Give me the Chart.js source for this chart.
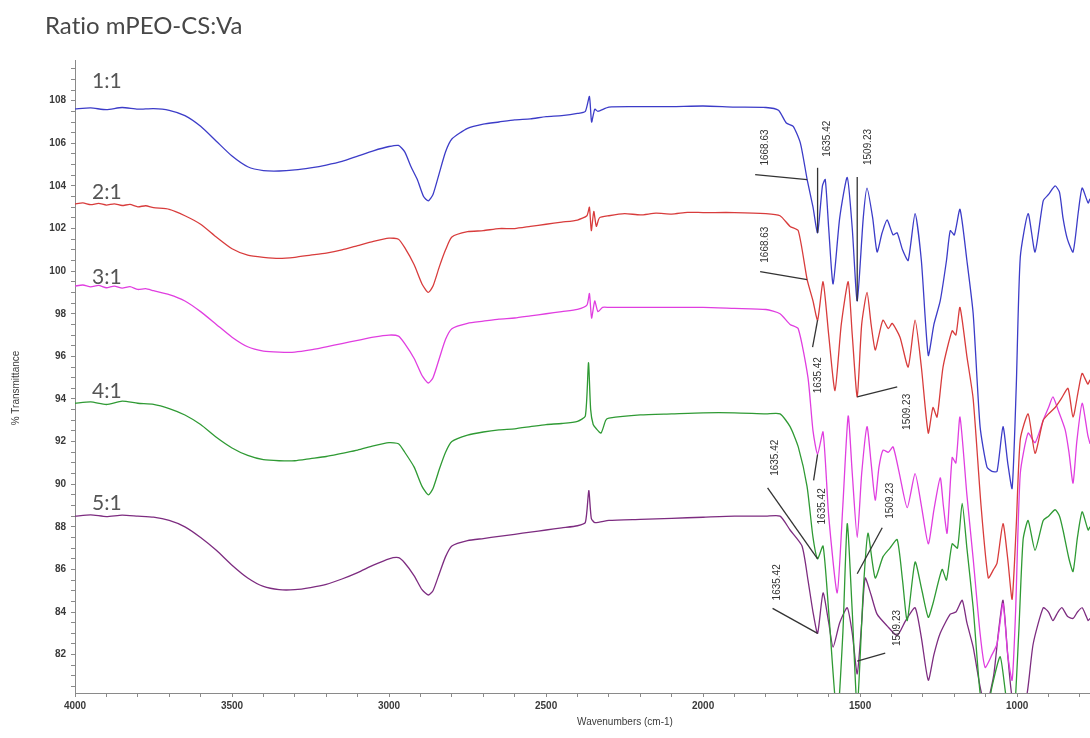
<!DOCTYPE html>
<html>
<head>
<meta charset="utf-8">
<script src="https://cdn.jsdelivr.net/npm/chart.js@4.4.0/dist/chart.umd.min.js"></script>
<style>
  html, body { margin: 0; padding: 0; background: #ffffff; }
  #wrap { width: 1090px; height: 738px; position: relative; }
</style>
</head>
<body>
<div id="wrap"><canvas id="c" width="1090" height="738"></canvas></div>
<script>
// FTIR spectra, % transmittance vs wavenumber (cm-1), one trace per mPEO-CS:Va ratio

const ratioNames = ['1:1', '2:1', '3:1', '4:1', '5:1'];

// 1:1
const wn11 = [4000,3950,3900,3850,3800,3750,3700,3650,3600,3550,3500,3450,3400,3350,3300,3250,3200,3150,3100,3050,3000,2970,2950,2930,2910,2890,2875,2860,2840,2820,2800,2750,2700,2650,2600,2550,2500,2450,2400,2375,2362,2355,2345,2335,2300,2200,2100,2000,1900,1800,1760,1735,1713,1690,1668.63,1650,1635.42,1620,1611,1600,1586,1565,1541,1525,1509.23,1490,1478,1460,1446,1430,1414,1395,1382,1365,1347,1325,1305,1283,1265,1245,1225,1213,1200,1182,1160,1140,1118,1096,1080,1064,1045,1030,1016,1003,990,965,943,917,900,879,865,854,840,822,805,793,774,768];
const t11 = [107.62,107.66,107.58,107.68,107.6,107.63,107.55,107.3,106.8,106.1,105.4,104.9,104.72,104.7,104.75,104.85,104.98,105.15,105.4,105.65,105.85,105.9,105.6,104.9,104.3,103.5,103.3,103.6,104.6,105.6,106.2,106.7,106.9,107.0,107.1,107.15,107.25,107.3,107.4,107.5,108.2,107.0,107.6,107.5,107.7,107.72,107.72,107.75,107.7,107.68,107.55,106.95,106.8,106.0,104.3,103.0,101.8,104.0,104.3,102.0,99.4,102.5,104.4,102.0,98.6,102.5,103.9,102.5,100.9,101.8,102.4,101.7,101.8,101.0,100.5,102.7,100.5,96.05,97.5,98.6,100.5,101.9,101.7,102.9,100.5,98.0,92.7,90.8,90.6,90.6,92.7,91.0,89.8,94.5,100.65,102.7,100.9,103.3,103.6,104.0,103.7,102.5,101.5,100.9,102.8,103.9,103.2,103.4];

// 2:1
const wn21 = [4000,3975,3950,3925,3900,3875,3850,3825,3800,3775,3750,3700,3650,3600,3550,3500,3450,3400,3350,3300,3250,3200,3150,3100,3050,3000,2970,2950,2920,2895,2875,2860,2840,2820,2800,2750,2700,2650,2600,2550,2500,2450,2400,2370,2362,2356,2348,2340,2330,2300,2250,2200,2150,2100,2050,2000,1900,1800,1755,1723,1697,1668.63,1650,1635.42,1618,1600,1580,1560,1538,1525,1509.23,1495,1478,1465,1452,1440,1427,1410,1398,1373,1347,1325,1305,1283,1268,1255,1236,1207,1195,1182,1160,1140,1115,1092,1075,1064,1045,1030,1016,1003,990,965,943,917,900,879,860,838,822,805,793,775,768];
const t21 = [103.15,103.2,103.12,103.18,103.1,103.16,103.08,103.13,103.02,103.07,102.98,102.9,102.6,102.2,101.6,101.05,100.75,100.65,100.6,100.65,100.75,100.85,101.0,101.2,101.4,101.55,101.5,101.1,100.3,99.4,99.0,99.3,100.2,101.0,101.6,101.85,101.9,102.0,102.0,102.1,102.2,102.3,102.4,102.6,103.0,101.9,102.8,102.1,102.5,102.6,102.7,102.64,102.72,102.68,102.76,102.75,102.75,102.7,102.6,102.1,101.9,99.6,98.6,97.7,99.5,97.0,94.4,97.5,99.5,97.0,94.1,97.5,99.0,97.5,96.3,97.0,97.7,97.3,97.55,96.9,95.5,97.7,95.5,92.4,93.6,93.15,95.5,97.2,97.0,98.3,96.0,94.0,89.0,85.6,86.0,86.3,88.15,86.5,84.6,88.0,92.1,93.3,91.45,93.0,93.3,93.6,94.0,94.5,93.15,94.4,95.2,94.7,94.9];

// 3:1
const wn31 = [4000,3975,3950,3925,3900,3875,3850,3825,3800,3775,3750,3700,3650,3600,3550,3500,3450,3400,3350,3300,3250,3200,3150,3100,3050,3000,2970,2950,2920,2895,2875,2860,2840,2820,2800,2750,2700,2650,2600,2550,2500,2450,2400,2370,2362,2355,2345,2335,2320,2300,2200,2100,2000,1900,1800,1755,1723,1697,1666,1650,1635.42,1618,1600,1573,1555,1538,1525,1509.23,1495,1478,1465,1452,1440,1427,1410,1395,1375,1350,1325,1305,1283,1265,1245,1235,1223,1207,1195,1182,1160,1140,1118,1102,1080,1064,1045,1030,1016,1005,990,965,943,917,900,886,870,847,835,822,810,793,775,768];
const t31 = [99.3,99.35,99.26,99.33,99.22,99.3,99.2,99.27,99.14,99.18,99.08,98.9,98.6,98.1,97.5,96.9,96.45,96.25,96.2,96.2,96.3,96.45,96.6,96.75,96.9,97.0,96.95,96.6,95.9,95.1,94.75,95.0,95.9,96.8,97.3,97.55,97.65,97.75,97.8,97.9,98.0,98.1,98.2,98.4,98.95,97.8,98.6,98.1,98.3,98.3,98.3,98.3,98.3,98.25,98.2,98.0,97.5,97.3,95.0,92.5,91.4,92.45,88.5,84.9,89.0,93.2,90.5,87.5,90.5,92.7,91.0,89.25,90.8,91.6,91.5,91.75,90.5,88.9,90.5,89.0,87.2,88.8,90.3,89.0,87.7,91.25,91.0,93.15,89.5,86.5,83.0,81.4,82.0,82.5,84.4,82.0,80.8,84.0,90.5,92.4,91.95,93.0,93.6,94.1,93.5,92.55,91.5,90.05,92.0,93.8,92.3,91.9];

// 4:1
const wn41 = [4000,3950,3900,3850,3800,3750,3700,3650,3600,3550,3500,3450,3400,3350,3300,3250,3200,3150,3100,3050,3000,2970,2950,2920,2895,2875,2860,2840,2820,2800,2750,2700,2650,2600,2550,2500,2450,2400,2375,2365,2358,2350,2340,2325,2310,2300,2200,2100,2000,1900,1800,1755,1723,1697,1669,1650,1635.42,1618,1600,1573,1555,1541,1525,1509.23,1490,1475,1452,1427,1405,1382,1365,1350,1325,1303,1283,1268,1239,1225,1207,1190,1175,1160,1140,1118,1100,1080,1054,1035,1013,995,981,965,943,917,900,879,865,854,835,822,808,793,774,768];
const t41 = [93.8,93.86,93.74,93.9,93.8,93.75,93.55,93.25,92.8,92.2,91.7,91.35,91.15,91.1,91.1,91.2,91.3,91.45,91.6,91.8,91.95,91.9,91.5,90.8,89.9,89.5,89.8,90.7,91.5,92.0,92.3,92.45,92.55,92.6,92.7,92.8,92.85,92.95,93.2,95.7,93.5,92.8,92.6,92.4,93.0,93.1,93.25,93.3,93.35,93.35,93.3,93.3,92.7,91.75,89.9,87.5,86.5,87.1,84.0,79.0,83.0,88.15,84.0,79.5,85.0,87.7,85.6,86.6,87.0,87.4,85.5,83.6,86.35,85.0,83.75,84.4,86.0,85.5,87.2,87.0,89.1,87.0,84.2,80.2,79.0,80.5,81.9,80.0,78.5,83.0,87.4,88.3,86.9,88.3,88.5,88.8,88.5,87.85,86.5,85.9,87.5,88.7,87.85,88.0];

// 5:1
const wn51 = [4000,3950,3900,3850,3800,3750,3700,3650,3600,3550,3500,3450,3400,3350,3300,3250,3200,3150,3100,3050,3000,2970,2950,2920,2895,2875,2860,2840,2820,2800,2750,2700,2650,2600,2550,2500,2450,2400,2375,2364,2356,2345,2300,2200,2100,2000,1900,1800,1755,1723,1685,1666,1650,1635.42,1618,1600,1586,1565,1541,1525,1509.23,1495,1484,1465,1446,1414,1382,1355,1325,1305,1283,1265,1245,1213,1195,1175,1160,1140,1118,1100,1075,1060,1045,1030,1016,1000,985,968,949,917,900,886,870,857,840,822,808,793,780,774,768];
const t51 = [88.5,88.56,88.48,88.55,88.5,88.45,88.3,88.0,87.5,86.9,86.2,85.6,85.2,85.05,85.05,85.15,85.3,85.55,85.85,86.2,86.5,86.55,86.3,85.7,85.05,84.8,85.0,85.8,86.6,87.1,87.35,87.45,87.55,87.65,87.75,87.85,87.95,88.05,88.2,89.7,88.4,88.2,88.3,88.35,88.4,88.45,88.5,88.5,88.5,87.85,87.1,85.5,84.0,83.0,84.9,83.5,82.35,83.5,84.2,83.0,81.1,83.5,85.6,84.8,83.9,83.35,82.9,83.6,84.2,82.8,80.8,82.0,83.0,83.9,84.0,84.55,83.5,82.35,80.5,79.5,81.0,83.0,84.55,82.0,80.0,79.8,79.5,80.2,82.5,84.2,84.0,83.6,84.0,84.2,83.8,83.7,84.0,84.2,83.8,83.6,83.7];

const wavenumbers = [wn11, wn21, wn31, wn41, wn51];
const transmittance = [t11, t21, t31, t41, t51];
const traceColors = ['#3c3cc8', '#d83c3c', '#e03ee0', '#2f9a34', '#7d2c80'];

// axis ticks
const xMajorTicks = [4000, 3500, 3000, 2500, 2000, 1500, 1000];
const yMajorTicks = [82, 84, 86, 88, 90, 92, 94, 96, 98, 100, 102, 104, 106, 108];

// peak positions marked on the traces: wavenumber, and the %T the leader points at
const peakText = ['1668.63', '1635.42', '1509.23', '1668.63', '1635.42', '1509.23', '1635.42', '1509.23', '1635.42', '1635.42', '1509.23'];
const peakWn   = [1668.63, 1635.42, 1509.23, 1668.63, 1635.42, 1509.23, 1635.42, 1509.23, 1635.42, 1635.42, 1509.23];
const peakTip  = [104.3, 101.8, 98.6, 99.6, 97.7, 94.1, 91.4, 85.8, 86.5, 83.0, 81.7];

// label placement relative to the tip (pixels): text centre and leader start
const tagPlace = [
  { tx: -42, ty: -32, lx: -52, ly: -5 },
  { tx: 10, ty: -94, lx: 0, ly: -65 },
  { tx: 11, ty: -154, lx: 0, ly: -124 },
  { tx: -42, ty: -35, lx: -47, ly: -8 },
  { tx: 1, ty: 55, lx: -5, ly: 27 },
  { tx: 50, ty: 15, lx: 40, ly: -10 },
  { tx: 5, ty: 52, lx: -4, ly: 26 },
  { tx: 33, ty: -73, lx: 25, ly: -46 },
  { tx: -42, ty: -101, lx: -50, ly: -71 },
  { tx: -40, ty: -51, lx: -45, ly: -25 },
  { tx: 40, ty: -33, lx: 28, ly: -8 }
];

// %T level at which each ratio name is written, near the start of its trace
const ratioLabelLevel = [108.9, 103.7, 99.7, 94.35, 89.1];

const datasets = ratioNames.map((name, i) => ({
  label: name,
  data: wavenumbers[i].map((w, k) => ({ x: w, y: transmittance[i][k] })),
  borderColor: traceColors[i],
  borderWidth: 1.3,
  pointRadius: 0,
  tension: 0.2,
  fill: false
}));

const decorations = {
  id: 'decorations',
  afterDatasetsDraw(chart) {
    const ctx = chart.ctx;
    const xs = chart.scales.x, ys = chart.scales.y;
    const area = chart.chartArea;
    ctx.save();
    if ('textRendering' in ctx) ctx.textRendering = 'optimizeSpeed';

    // title
    ctx.fillStyle = '#474747';
    ctx.font = '24px Lato';
    ctx.textAlign = 'left';
    ctx.textBaseline = 'middle';
    ctx.fillText('Ratio mPEO-CS:Va', 45, 26);

    // ratio names
    ctx.fillStyle = '#555555';
    ctx.font = '21px Lato';
    ratioNames.forEach((name, i) => {
      ctx.fillText(name, area.left + 17, ys.getPixelForValue(ratioLabelLevel[i]));
    });

    // axis titles
    ctx.fillStyle = '#3a3a3a';
    ctx.font = '10px "Liberation Sans"';
    ctx.textAlign = 'center';
    ctx.fillText('Wavenumbers (cm-1)', 625, 722);
    ctx.save();
    ctx.translate(16, 388);
    ctx.rotate(-Math.PI / 2);
    ctx.fillText('% Transmittance', 0, 0);
    ctx.restore();

    // peak tags
    ctx.strokeStyle = '#333333';
    ctx.lineWidth = 1.3;
    ctx.fillStyle = '#333333';
    ctx.font = '10px "Liberation Sans"';
    peakText.forEach((txt, i) => {
      const px = xs.getPixelForValue(peakWn[i]);
      const py = ys.getPixelForValue(peakTip[i]);
      const p = tagPlace[i];
      ctx.beginPath();
      ctx.moveTo(px + p.lx, py + p.ly);
      ctx.lineTo(px, py);
      ctx.stroke();
      ctx.save();
      ctx.translate(px + p.tx, py + p.ty);
      ctx.rotate(-Math.PI / 2);
      ctx.textAlign = 'center';
      ctx.textBaseline = 'middle';
      ctx.fillText(txt, 0, 0);
      ctx.restore();
    });
    ctx.restore();
  }
};

function everyStep(from, to, step) {
  const out = [];
  for (let v = from; v <= to + 1e-9; v += step) out.push({ value: Math.round(v * 100) / 100 });
  return out;
}

new Chart(document.getElementById('c'), {
  type: 'line',
  data: { datasets },
  plugins: [decorations],
  options: {
    responsive: false,
    animation: false,
    devicePixelRatio: 1,
    layout: { padding: { top: 60, right: 0, bottom: 0, left: 0 } },
    plugins: { legend: { display: false }, tooltip: { enabled: false } },
    scales: {
      x: {
        type: 'linear',
        reverse: true,
        min: 768,
        max: 4000,
        afterBuildTicks: s => { s.ticks = everyStep(800, 4000, 100); },
        afterFit: s => { s.height = 45; },
        border: { display: true, color: '#8a8a8a', width: 1 },
        grid: { drawOnChartArea: false, drawTicks: true, tickLength: 4, color: '#8a8a8a' },
        ticks: {
          autoSkip: false,
          maxRotation: 0,
          padding: 3,
          color: '#3a3a3a',
          font: { family: '"Liberation Sans"', size: 10, weight: 'bold' },
          callback: v => (xMajorTicks.includes(v) ? String(v) : '')
        }
      },
      y: {
        type: 'linear',
        min: 80.2,
        max: 109.91,
        afterBuildTicks: s => { s.ticks = everyStep(80.5, 109.5, 0.5); },
        afterFit: s => { s.width = 75; },
        border: { display: true, color: '#8a8a8a', width: 1 },
        grid: { drawOnChartArea: false, drawTicks: true, tickLength: 4, color: '#8a8a8a' },
        ticks: {
          autoSkip: false,
          padding: 5,
          color: '#3a3a3a',
          font: { family: '"Liberation Sans"', size: 10, weight: 'bold' },
          callback: v => (yMajorTicks.includes(v) ? String(v) : '')
        }
      }
    }
  }
});
</script>
</body>
</html>
